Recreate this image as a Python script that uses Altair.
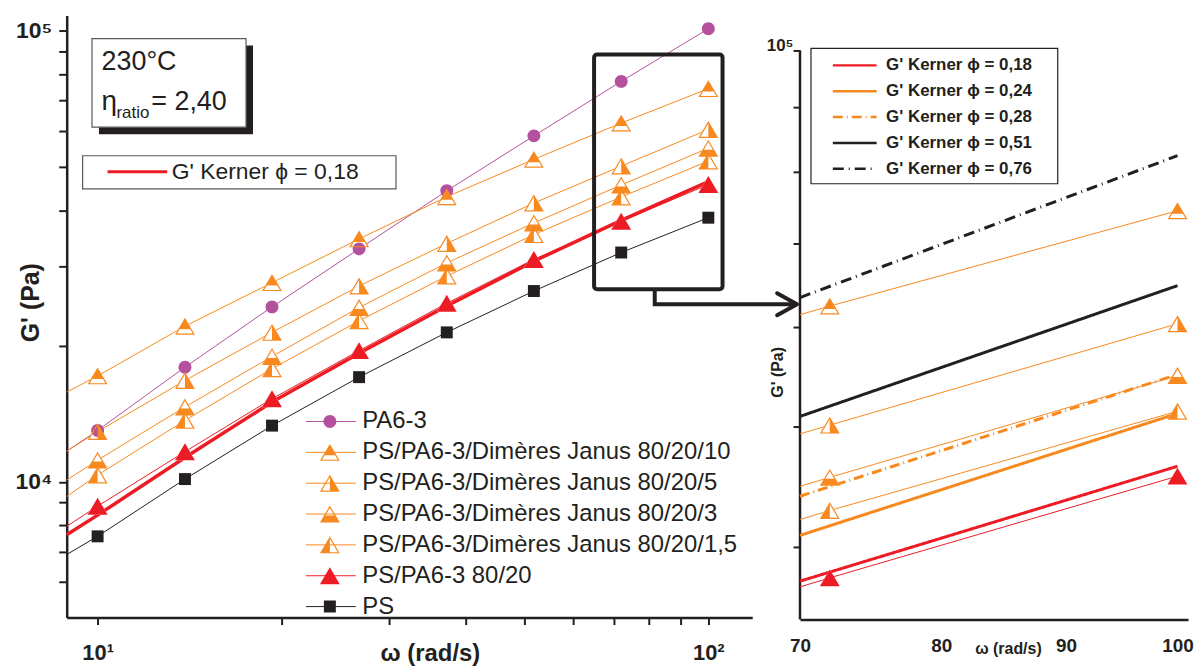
import altair as alt
import pandas as pd

FONT = "Liberation Sans"
INK = "#231f20"

# ---------------- data ----------------
omega = [10.0, 13.9, 19.3, 26.8, 37.3, 51.8, 72.0, 100.0]
omega_line_start = 8.9

series = [
    "PA6-3",
    "PS/PA6-3/Dimères Janus 80/20/10",
    "PS/PA6-3/Dimères Janus 80/20/5",
    "PS/PA6-3/Dimères Janus 80/20/3",
    "PS/PA6-3/Dimères Janus 80/20/1,5",
    "PS/PA6-3 80/20",
    "PS",
]
g_pa6 = [13000, 17950, 24420, 32840, 44160, 58460, 77200, 101000]
g_j10 = [17170, 22130, 27640, 34550, 42830, 51860, 62400, 74400]
g_j5 = [12920, 16770, 21440, 27170, 33750, 41490, 50100, 60400]
g_j3 = [11170, 14650, 18960, 24340, 30560, 37480, 45500, 54900]
g_j15 = [10350, 13680, 17800, 22740, 28580, 35310, 42800, 51400]
g_blend = [8830, 11660, 15280, 19530, 24880, 31110, 37800, 45600]
g_ps = [7570, 10140, 13320, 17060, 21440, 26480, 32230, 38500]
g_line_start = [11690, 15810, 11690, 10090, 9277, 7966, 6898]

kerner18_omega = [8.9, 10.0, 13.9, 19.3, 26.8, 37.3, 51.8, 72.0, 100.0]
kerner18_g = [7634, 8435, 11320, 15020, 19270, 24540, 30840, 37970, 46300]

kerner_names = [
    "G' Kerner ϕ = 0,18",
    "G' Kerner ϕ = 0,24",
    "G' Kerner ϕ = 0,28",
    "G' Kerner ϕ = 0,51",
    "G' Kerner ϕ = 0,76",
]
kerner_omega = [70.0, 100.0]
k18 = [37570, 46440]
k24 = [40880, 51190]
k28 = [43940, 55010]
k51 = [50910, 64800]
k76 = [63390, 82350]

# annotations (data coordinates of each panel)
info_omega = [9.79, 17.5]
info_g = [61100, 96030]
temp_anchor = [10.15, 81900]
eta_anchor = [10.15, 66610]
klegend_left_omega = [9.45, 30.8]
klegend_left_g = [44600, 52820]
zoom_omega = [65.0, 105.5]
zoom_g = [26710, 88520]
conn_omega = [81.7, 81.7, 139.7]
conn_g = [26710, 24750, 24750]
klegend_right_omega = [70.73, 89.3]
klegend_right_g = [78200, 100370]

# ---------------- styles ----------------
PURPLE, ORANGE, RED = "#b4519e", "#f7891f", "#ed1c24"
colors = [PURPLE, ORANGE, ORANGE, ORANGE, ORANGE, RED, INK]

TRI = "M0,-0.85L1,0.85L-1,0.85Z"
INNER = "M0,-0.613L-0.79,0.73L0.79,0.73Z"
TOP = "M0,-0.85L0.676,0.3L-0.676,0.3Z"
BOTTOM = "M-0.588,0.15L0.588,0.15L1,0.85L-1,0.85Z"
RIGHT = "M0,-0.85L1,0.85L0,0.85Z"
LEFT = "M0,-0.85L0,0.85L-1,0.85Z"
CIRCLE = "M0.65,0A0.65,0.65 0 1,1 -0.65,0A0.65,0.65 0 1,1 0.65,0Z"
SQUARE = "M-0.6,-0.6L0.6,-0.6L0.6,0.6L-0.6,0.6Z"
shapes = [CIRCLE, TRI + INNER + TOP, TRI + INNER + RIGHT, TRI + INNER + BOTTOM,
          TRI + INNER + LEFT, TRI, SQUARE]

k_colors = [RED, ORANGE, ORANGE, INK, INK]
k_dash = [[1, 0], [1, 0], [10, 4, 1, 4], [1, 0], [11, 5, 1, 5]]

# ---------------- tables ----------------
all_g = [g_pa6, g_j10, g_j5, g_j3, g_j15, g_blend, g_ps]
# marker keys differ from the line names so that the two legends stay separate
marker_keys = ["m" + str(i) for i in range(len(series))]
pts = pd.DataFrame([{"omega": w, "G": g, "series": k}
                    for k, vals in zip(marker_keys, all_g) for w, g in zip(omega, vals)])
line_rows = []
for s, st, vals in zip(series, g_line_start, all_g):
    line_rows.append({"omega": omega_line_start, "G": st, "name": s})
    line_rows += [{"omega": w, "G": g, "name": s} for w, g in zip(omega, vals)]
lines = pd.DataFrame(line_rows)
tri_series = series[1:6]
tri_keys = marker_keys[1:6]

kern_left = pd.DataFrame({"omega": kerner18_omega, "G": kerner18_g,
                          "kerner": [kerner_names[0]] * len(kerner18_omega)})
kern_right = pd.DataFrame([{"omega": w, "G": g, "kerner": n}
                           for n, vals in zip(kerner_names, [k18, k24, k28, k51, k76])
                           for w, g in zip(kerner_omega, vals)])

color_scale = alt.Scale(domain=series, range=colors)
fill_scale = alt.Scale(domain=marker_keys, range=colors)
shape_scale = alt.Scale(domain=marker_keys, range=shapes)


def box_df(om, g):
    return pd.DataFrame({"omega": [om[0]], "omega2": [om[1]], "G": [g[0]], "G2": [g[1]]})


# ---------------- left panel ----------------
xs_left = alt.Scale(type="log", domain=[8.9, 118], nice=False)
ys_left = alt.Scale(type="log", domain=[5000, 108000], nice=False)

X_L = alt.X("omega:Q", scale=xs_left, title="ω (rad/s)", axis=alt.Axis(
    values=[10, 20, 30, 40, 50, 60, 70, 80, 90, 100],
    labelExpr="datum.value == 10 ? '10¹' : (datum.value == 100 ? '10²' : '')",
    tickSize=7, labelPadding=35, labelBaseline="alphabetic", labelFontSize=22,
    labelFontWeight="bold", labelOverlap=False, labelFlush=False,
    titleFontSize=24, titleFontWeight="bold", titleX=365, titleY=43,
    titleBaseline="alphabetic", titleAlign="center"))
Y_L = alt.Y("G:Q", scale=ys_left, title="G' (Pa)", axis=alt.Axis(
    values=[6000, 7000, 8000, 9000, 10000, 20000, 30000, 40000, 50000,
            60000, 70000, 80000, 90000, 100000],
    labelExpr="datum.value == 10000 ? '10⁴' : (datum.value == 100000 ? '10⁵' : '')",
    tickSize=8, labelPadding=7, labelFontSize=23, labelFontWeight="bold",
    labelOverlap=False, titleFontSize=25, titleFontWeight="bold",
    titleX=-36, titleY=288, titleAngle=270, titleAlign="center", titleBaseline="middle"))

legend_lines = alt.Legend(title=None, orient="none", legendX=240, legendY=392.8,
                          symbolType="stroke", symbolSize=2500, symbolStrokeWidth=1,
                          clipHeight=30.3, rowPadding=0, padding=0, labelFont=FONT,
                          labelFontSize=24, labelColor=INK, labelOffset=6, labelLimit=600)
legend_marks = alt.Legend(title=None, orient="none", legendX=254.5, legendY=392.8,
                          symbolSize=400, symbolStrokeWidth=0, symbolOpacity=1,
                          clipHeight=30.3, rowPadding=0, padding=0, labelFont=FONT,
                          labelFontSize=1, labelExpr="''", labelOffset=0)
legend_k_left = alt.Legend(title=None, orient="none", legendX=16, legendY=140.7,
                           symbolType="stroke", symbolSize=3600, symbolStrokeWidth=3,
                           clipHeight=22.3, padding=5,
                           symbolOffset=18.5, labelOffset=3, labelFont=FONT,
                           labelFontSize=23, labelColor=INK, labelLimit=600)

info_df = box_df(info_omega, info_g)
kbox_l_df = box_df(klegend_left_omega, klegend_left_g)
zoom_df = box_df(zoom_omega, zoom_g)
conn_df = pd.DataFrame({"omega": conn_omega, "G": conn_g, "k": [0, 1, 2]})
tip_df = pd.DataFrame({"omega": [conn_omega[-1]], "G": [conn_g[-1]]})
temp_df = pd.DataFrame({"omega": [temp_anchor[0]], "G": [temp_anchor[1]], "t": ["230°C"]})
eta_df = pd.DataFrame({"omega": [eta_anchor[0]], "G": [eta_anchor[1]], "t": ["η"]})
ratio_df = pd.DataFrame({"omega": [eta_anchor[0]], "G": [eta_anchor[1]], "t": ["ratio"]})
val_df = pd.DataFrame({"omega": [eta_anchor[0]], "G": [eta_anchor[1]], "t": ["= 2,40"]})

shadow = alt.Chart(info_df).mark_rect(color=INK, xOffset=7, x2Offset=7, yOffset=7,
                                      y2Offset=7).encode(x2="omega2:Q", y2="G2:Q")
infobox = alt.Chart(info_df).mark_rect(fill="white", stroke="#58595b",
                                       strokeWidth=1.2).encode(x2="omega2:Q", y2="G2:Q")
kbox_l = alt.Chart(kbox_l_df).mark_rect(fill="white", stroke="#58595b",
                                        strokeWidth=1.2).encode(x2="omega2:Q", y2="G2:Q")
t1 = alt.Chart(temp_df).mark_text(align="left", baseline="alphabetic", font=FONT,
                                  fontSize=27, color=INK).encode(text="t:N")
t2 = alt.Chart(eta_df).mark_text(align="left", baseline="alphabetic", font=FONT,
                                 fontSize=28, color=INK).encode(text="t:N")
t3 = alt.Chart(ratio_df).mark_text(align="left", baseline="alphabetic", font=FONT,
                                   fontSize=17, dx=15, dy=8, color=INK).encode(text="t:N")
t4 = alt.Chart(val_df).mark_text(align="left", baseline="alphabetic", font=FONT,
                                 fontSize=27, dx=50, color=INK).encode(text="t:N")

data_lines_L = alt.Chart(lines).mark_line(strokeWidth=1).encode(
    color=alt.Color("name:N", scale=color_scale, legend=legend_lines))
kern_L = alt.Chart(kern_left).mark_line(strokeWidth=3.5).encode(
    stroke=alt.Stroke("kerner:N", scale=alt.Scale(domain=[kerner_names[0]], range=[RED]),
                      legend=legend_k_left))
under_L = alt.Chart(pts[pts["series"].isin(tri_keys)]).mark_point(
    shape=TRI, filled=True, fill="white", size=400, strokeWidth=0, opacity=1)
marks_L = alt.Chart(pts).mark_point(filled=True, size=400, strokeWidth=0, opacity=1).encode(
    shape=alt.Shape("series:N", scale=shape_scale, legend=legend_marks),
    fill=alt.Fill("series:N", scale=fill_scale, legend=legend_marks))
zoombox = alt.Chart(zoom_df).mark_rect(fillOpacity=0, stroke=INK, strokeWidth=4,
                                       cornerRadius=3).encode(x2="omega2:Q", y2="G2:Q")
conn = alt.Chart(conn_df).mark_line(color=INK, strokeWidth=4).encode(order="k:O")
tip = alt.Chart(tip_df).mark_point(shape="M-1,-0.55L0,0L-1,0.55", filled=False, color=INK,
                                   strokeWidth=4, size=1600, opacity=1,
                                   strokeCap="round", strokeJoin="round")

left = alt.layer(shadow, infobox, kbox_l, t1, t2, t3, t4, data_lines_L, kern_L, under_L,
                 marks_L, zoombox, conn, tip).encode(x=X_L, y=Y_L).properties(
    width=689, height=605)

# ---------------- right panel ----------------
xs_right = alt.Scale(type="log", domain=[70, 101], nice=False)
ys_right = alt.Scale(type="log", domain=[35000, 106630], nice=False)
X_R = alt.X("omega:Q", scale=xs_right, title="ω (rad/s)", axis=alt.Axis(
    values=[70, 80, 90, 100], format="d", ticks=False, labelPadding=32,
    labelBaseline="alphabetic", labelFontSize=19, labelFontWeight="bold",
    labelOverlap=False, labelFlush=False, titleX=209, titleY=34,
    titleBaseline="alphabetic", titleAlign="center", titleFontSize=16,
    titleFontWeight="bold"))
Y_R = alt.Y("G:Q", scale=ys_right, title="G' (Pa)", axis=alt.Axis(
    values=[40000, 50000, 60000, 70000, 80000, 90000, 100000], domain=False,
    labelExpr="datum.value == 100000 ? '10⁵' : ''", tickSize=7, labelPadding=0,
    labelBaseline="alphabetic", labelFontSize=17, labelFontWeight="bold",
    labelOverlap=False, titleX=-23, titleY=358, titleAngle=270, titleAlign="center",
    titleBaseline="middle", titleFontSize=16, titleFontWeight="bold"))

legend_k_right = alt.Legend(title=None, orient="none", legendX=11, legendY=33,
                            symbolType="stroke", symbolSize=1936, symbolStrokeWidth=2.5,
                            clipHeight=26, rowPadding=0, padding=4,
                            symbolOffset=16.5, labelOffset=8, labelFont=FONT,
                            labelFontSize=17, labelFontWeight="bold", labelColor=INK,
                            labelLimit=600)

axis_df = pd.DataFrame({"omega": [70.0], "G": [35000], "G2": [100000]})
yline = alt.Chart(axis_df).mark_rule(color=INK, strokeWidth=2.5).encode(y2="G2:Q")
kbox_r = alt.Chart(box_df(klegend_right_omega, klegend_right_g)).mark_rect(
    fill="white", stroke=INK, strokeWidth=1.2).encode(x2="omega2:Q", y2="G2:Q")
data_lines_R = alt.Chart(lines[lines["name"].isin(tri_series)]).mark_line(
    strokeWidth=1, clip=True).encode(
    color=alt.Color("name:N", scale=color_scale, legend=None))
kern_R = alt.Chart(kern_right).mark_line(strokeWidth=3).encode(
    stroke=alt.Stroke("kerner:N", scale=alt.Scale(domain=kerner_names, range=k_colors),
                      legend=legend_k_right),
    strokeDash=alt.StrokeDash("kerner:N", scale=alt.Scale(domain=kerner_names, range=k_dash),
                              legend=legend_k_right))
sub_pts = pts[pts["series"].isin(tri_keys)]
under_R = alt.Chart(sub_pts).mark_point(shape=TRI, filled=True, fill="white", size=400,
                                        strokeWidth=0, opacity=1, clip=True)
marks_R = alt.Chart(sub_pts).mark_point(filled=True, size=400, strokeWidth=0, opacity=1,
                                        clip=True).encode(
    shape=alt.Shape("series:N", scale=shape_scale, legend=None),
    fill=alt.Fill("series:N", scale=fill_scale, legend=None))

right = alt.layer(yline, data_lines_R, kern_R, under_R, marks_R, kbox_r).encode(
    x=X_R, y=Y_R).properties(width=390, height=607)

chart = alt.hconcat(left, right, spacing=48, bounds="flush").resolve_scale(
    x="independent", y="independent", color="independent", fill="independent",
    shape="independent", stroke="independent", strokeDash="independent"
).resolve_legend(
    color="independent", fill="independent", shape="independent",
    stroke="independent", strokeDash="independent"
).properties(
    padding={"left": 7, "top": 6, "right": 2, "bottom": 0}
).configure_view(stroke=None).configure_axis(
    labelFont=FONT, titleFont=FONT, domainColor=INK, tickColor=INK, labelColor=INK,
    titleColor=INK, grid=False, domainWidth=2.5, tickWidth=2
)

chart.save("out.html", embed_options={"renderer": "svg", "actions": False})
